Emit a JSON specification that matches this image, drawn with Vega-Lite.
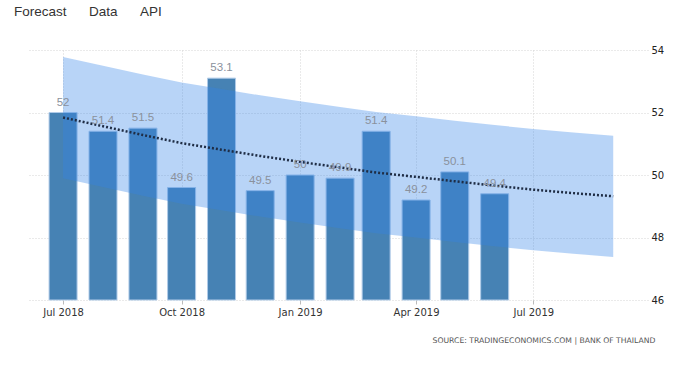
{
  "$schema": "https://vega.github.io/schema/vega-lite/v6.json",
  "autosize": "none",
  "width": 621,
  "height": 250,
  "padding": {"left": 27, "top": 50, "right": 51, "bottom": 66},
  "background": "white",
  "title": {
    "text": "Forecast\u00a0\u00a0\u00a0\u00a0\u00a0\u00a0Data\u00a0\u00a0\u00a0\u00a0\u00a0\u00a0API",
    "anchor": "start",
    "frame": "group",
    "dx": -13,
    "offset": 27,
    "font": "Liberation Sans",
    "fontSize": 13.5,
    "fontWeight": "normal",
    "color": "#333333"
  },
  "config": {
    "view": {"stroke": null},
    "axis": {"gridColor": "#d4d4d4", "gridDash": [1, 2], "gridWidth": 1}
  },
  "datasets": {
    "bars": [
      {"date": "2018-07-01", "value": 52},
      {"date": "2018-08-01", "value": 51.4},
      {"date": "2018-09-01", "value": 51.5},
      {"date": "2018-10-01", "value": 49.6},
      {"date": "2018-11-01", "value": 53.1},
      {"date": "2018-12-01", "value": 49.5},
      {"date": "2019-01-01", "value": 50},
      {"date": "2019-02-01", "value": 49.9},
      {"date": "2019-03-01", "value": 51.4},
      {"date": "2019-04-01", "value": 49.2},
      {"date": "2019-05-01", "value": 50.1},
      {"date": "2019-06-01", "value": 49.4}
    ],
    "band": [
      {"date": "2018-07-01", "upper": 53.78, "lower": 49.9, "mid": 51.84},
      {"date": "2018-08-01", "upper": 53.5, "lower": 49.62, "mid": 51.56},
      {"date": "2018-09-01", "upper": 53.22, "lower": 49.34, "mid": 51.28},
      {"date": "2018-10-01", "upper": 52.96, "lower": 49.08, "mid": 51.02},
      {"date": "2018-11-01", "upper": 52.75, "lower": 48.87, "mid": 50.81},
      {"date": "2018-12-01", "upper": 52.55, "lower": 48.67, "mid": 50.61},
      {"date": "2019-01-01", "upper": 52.36, "lower": 48.48, "mid": 50.42},
      {"date": "2019-02-01", "upper": 52.18, "lower": 48.3, "mid": 50.24},
      {"date": "2019-03-01", "upper": 52.02, "lower": 48.14, "mid": 50.08},
      {"date": "2019-04-01", "upper": 51.88, "lower": 48.0, "mid": 49.94},
      {"date": "2019-05-01", "upper": 51.74, "lower": 47.86, "mid": 49.8},
      {"date": "2019-06-01", "upper": 51.6, "lower": 47.72, "mid": 49.66},
      {"date": "2019-07-01", "upper": 51.47, "lower": 47.59, "mid": 49.53},
      {"date": "2019-08-01", "upper": 51.36, "lower": 47.48, "mid": 49.42},
      {"date": "2019-09-01", "upper": 51.26, "lower": 47.38, "mid": 49.32}
    ]
  },
  "encoding": {
    "x": {
      "field": "date",
      "type": "temporal",
      "scale": {
        "type": "utc",
        "nice": false,
        "padding": 0,
        "domain": [
          {"year": 2018, "month": 6, "date": 3, "utc": true},
          {"year": 2019, "month": 9, "date": 28, "utc": true}
        ]
      },
      "axis": {
        "orient": "bottom",
        "format": "%b %Y",
        "values": [
          {"year": 2018, "month": 7, "date": 1, "utc": true},
          {"year": 2018, "month": 10, "date": 1, "utc": true},
          {"year": 2019, "month": 1, "date": 1, "utc": true},
          {"year": 2019, "month": 4, "date": 1, "utc": true},
          {"year": 2019, "month": 7, "date": 1, "utc": true}
        ],
        "domain": false,
        "ticks": true,
        "tickSize": 4,
        "tickColor": "#bbbbbb",
        "labelFont": "DejaVu Sans",
        "labelFontSize": 10,
        "labelColor": "#333333",
        "labelPadding": 3,
        "grid": true,
        "title": "SOURCE: TRADINGECONOMICS.COM | BANK OF THAILAND",
        "titleFont": "DejaVu Sans",
        "titleFontSize": 7.7,
        "titleFontWeight": "normal",
        "titleColor": "#555555",
        "titleAlign": "right",
        "titleBaseline": "middle",
        "titleX": 628,
        "titleY": 40
      }
    }
  },
  "layer": [
    {
      "data": {"name": "bars"},
      "mark": {"type": "bar", "size": 28, "color": "#4682b4", "stroke": "#b0cbe8", "strokeWidth": 1},
      "encoding": {
        "y": {
          "field": "value",
          "type": "quantitative",
          "scale": {"domain": [46, 54], "zero": false, "nice": false},
          "axis": {
            "orient": "right",
            "values": [46, 48, 50, 52, 54],
            "domain": false,
            "ticks": false,
            "labelPadding": 3,
            "labelFont": "DejaVu Sans",
            "labelFontSize": 10,
            "labelColor": "#222222",
            "grid": true,
            "title": null
          }
        },
        "y2": {"datum": 46}
      }
    },
    {
      "data": {"name": "band"},
      "mark": {"type": "area", "color": "#3484e8", "opacity": 0.35},
      "encoding": {
        "y": {"field": "upper", "type": "quantitative"},
        "y2": {"field": "lower"}
      }
    },
    {
      "data": {"name": "band"},
      "mark": {"type": "line", "color": "#1f2d45", "strokeWidth": 2.5, "strokeDash": [2, 2]},
      "encoding": {
        "y": {"field": "mid", "type": "quantitative"}
      }
    },
    {
      "data": {"name": "bars"},
      "mark": {"type": "text", "baseline": "bottom", "dy": -5, "font": "Liberation Sans", "fontSize": 11.5, "color": "#8a919c"},
      "encoding": {
        "y": {"field": "value", "type": "quantitative"},
        "text": {"field": "value", "type": "nominal"}
      }
    }
  ]
}
